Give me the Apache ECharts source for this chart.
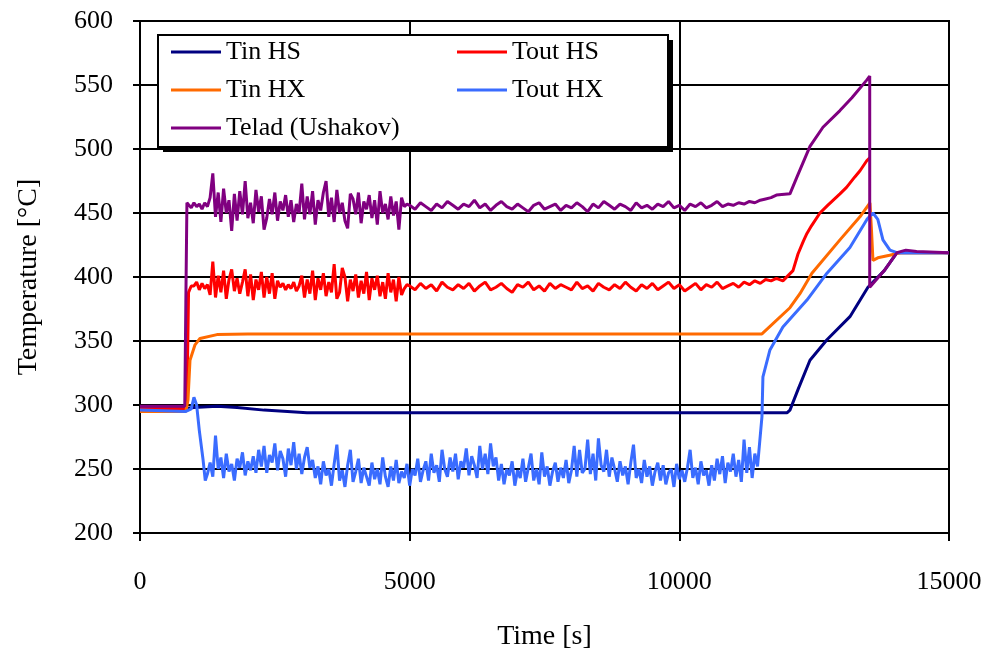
<!DOCTYPE html>
<html>
<head>
<meta charset="utf-8">
<script src="https://cdn.jsdelivr.net/npm/echarts@6/dist/echarts.min.js"></script>
<style>
  html, body { margin: 0; padding: 0; background: #fff; }
  #chart { width: 994px; height: 658px; }
</style>
</head>
<body>
<div id="chart"></div>
<script>
// axis ticks
const xTicks = [0, 5000, 10000, 15000];
const yTicks = [200, 250, 300, 350, 400, 450, 500, 550, 600];

// Tin HS (smooth, [time, temp])
const tinHs = [
  [0, 297], [800, 297], [1000, 298], [1427, 299], [1800, 298], [2300, 296],
  [3096, 294], [12000, 294], [12051, 296], [12200, 312], [12422, 335],
  [12737, 351], [13163, 369], [13497, 392], [13800, 405], [14035, 419], [15000, 419]
];

// Tin HX (smooth)
const tinHx = [
  [0, 295], [850, 295], [890, 304], [927, 335], [1020, 347], [1112, 352],
  [1427, 355], [2000, 355.5], [11532, 355.5], [12051, 376], [12236, 387],
  [12458, 403], [12978, 429], [13349, 447], [13534, 458], [13560, 439],
  [13590, 413], [13680, 415], [13900, 417], [14100, 419], [15000, 419]
];

// Tout HS
const toutHsStart = [[0, 297], [850, 297], [880, 330], [900, 388], [950, 393]];
const toutHsNoisy = [ // 1000..4950, every 50 s
  393, 396, 390, 395, 391, 394,
  386, 412, 384, 401, 388, 405, 383, 398, 406,
  389, 399, 387, 396,
  406, 385, 402, 382, 398, 390, 404, 384, 400, 387, 403, 383, 397,
  392, 395, 390, 394, 391, 396, 389, 393,
  401, 384, 398, 387, 405, 382, 399, 390, 403, 385, 396, 388, 410, 383, 388, 407,
  400, 381, 398, 389, 402, 384, 397, 387, 404, 382, 399, 390, 401, 385, 396, 383,
  403, 388, 398, 381, 400, 386,
  391, 394
];
const toutHsCalm = [ // 5000..11800, every 100 s
  393, 390, 395, 391, 394, 389, 396, 392, 390, 394, 391, 395, 389, 393, 396, 390, 392, 395, 391, 388,
  394, 392, 396, 390, 393, 389, 395, 391, 394, 392, 390, 396, 391, 393, 389, 395, 392, 390, 394, 391,
  396, 392, 389, 394, 391, 395, 390, 393, 396, 391, 394, 389, 392, 395, 390, 394, 392, 396, 391, 393,
  395, 392, 396, 394, 397, 395, 398, 397, 399
];
const toutHsEnd = [
  [11920, 397], [12107, 405], [12200, 418], [12300, 428], [12366, 434], [12450, 440],
  [12607, 450], [12750, 456], [12978, 465], [13100, 470], [13250, 478], [13350, 483],
  [13478, 491], [13530, 493]
];

// Tout HX
const toutHxStart = [
  [0, 296], [850, 295], [950, 297], [1000, 306], [1050, 300], [1100, 280],
  [1170, 257], [1210, 241]
];
const toutHxNoisy = [ // 1250..11450, every 50 s
  246, 255, 244, 276, 250, 259, 243, 262, 248, 254, 241, 258, 251, 263, 245, 256, 249, 260, 247, 265,
  252, 268, 247, 261, 255, 270, 249, 264, 258, 244, 266, 253, 271, 250, 262, 246, 259, 267, 251, 257,
  243, 252, 238, 256, 245, 250, 237, 254, 269, 241, 249, 236, 253, 265, 240, 248, 258, 239, 251, 244,
  237, 255, 242, 250, 238, 259, 244, 236, 252, 241, 257, 239, 248, 243, 254, 237, 250, 245, 258, 240,
  249, 256, 241, 262, 247, 253, 240, 265, 250, 244, 259, 248, 262, 242, 256, 251, 266, 245, 260, 253,
  243, 268, 250, 262, 246, 270, 252, 259, 241, 254, 238, 250, 245, 256, 237, 249, 243, 258, 240, 251,
  262, 241, 250, 238, 263, 244, 252, 237, 248, 255, 240, 251, 243, 257, 239, 249, 268, 244, 265, 247,
  250, 273, 246, 262, 241, 274, 253, 248, 265, 244, 259, 250, 240, 256, 245, 252, 238, 255, 269, 243,
  250, 239, 257, 244, 252, 237, 248, 255, 241, 253, 238, 247, 250, 236, 254, 242, 249, 240, 251, 265,
  243, 251, 238, 256, 245, 249, 237, 253, 241, 258, 246, 260, 239, 255, 248, 262, 244, 257, 240, 273,
  247, 267, 243, 262, 252
];
const toutHxEnd = [
  [11532, 291], [11550, 322], [11680, 343], [11920, 361], [12366, 382], [12737, 403],
  [13163, 423], [13478, 445], [13590, 450], [13680, 445], [13775, 429], [13905, 421],
  [14035, 419], [15000, 419]
];

// Telad (Ushakov)
const teladStart = [[0, 299], [830, 299], [850, 380], [870, 458]];
const teladNoisy = [ // 900..4950, every 50 s
  457, 454, 458, 455, 457, 453, 458, 455,
  462, 481, 447, 466, 443, 469, 450, 460, 436, 465, 444, 467, 449, 475, 446,
  458, 442, 468, 451, 463, 437, 446, 461, 449, 466, 444, 459, 452, 464, 447, 460, 443, 457, 450,
  473, 445, 463, 449, 467, 441, 460, 452, 466, 475, 447, 462, 443, 468, 450, 458, 444, 438, 465, 461,
  449, 466, 442, 459, 453, 464, 446, 460, 441, 467, 450, 457, 445, 463, 448, 459, 437, 462, 455, 457
];
const teladCalm = [ // 5000..11800, every 100 s
  456, 453, 458, 455, 452, 457, 454, 459, 456, 453, 457, 455, 460, 454, 457, 452, 456, 459, 455, 453,
  457, 454, 451, 456, 458, 453, 455, 457, 452, 456, 454, 458, 455, 451, 457, 454, 459, 456, 453, 457,
  455, 452, 458, 454, 456, 453, 457, 455, 459, 454, 456, 452, 457, 455, 458, 454, 456, 459, 455, 457,
  456, 458, 457, 459, 458, 460, 461, 462, 464
];
const teladEnd = [
  [12051, 465], [12180, 478], [12300, 490], [12422, 502], [12663, 517], [12978, 530],
  [13200, 540], [13478, 554], [13530, 557], [13530, 392], [13800, 405], [14035, 419],
  [14200, 421], [14400, 420], [15000, 419]
];

function sampled(start, step, values) {
  return values.map((v, i) => [start + i * step, v]);
}

const toutHs = [
  ...toutHsStart,
  ...sampled(1000, 50, toutHsNoisy),
  ...sampled(5000, 100, toutHsCalm),
  ...toutHsEnd,
];
const toutHx = [...toutHxStart, ...sampled(1250, 50, toutHxNoisy), ...toutHxEnd];
const telad = [
  ...teladStart,
  ...sampled(900, 50, teladNoisy),
  ...sampled(5000, 100, teladCalm),
  ...teladEnd,
];

const serif = "Liberation Serif";
const black = "#000";

function line(name, data, color, width) {
  return {
    name,
    type: "line",
    data,
    symbol: "none",
    lineStyle: { color, width },
    itemStyle: { color },
    z: 3,
  };
}

const legendCommon = {
  orient: "vertical",
  top: 39,
  padding: 0,
  itemGap: 12,
  itemWidth: 50,
  itemHeight: 3,
  icon: "rect",
  z: 10,
  textStyle: { fontFamily: serif, fontSize: 26, color: black, lineHeight: 26 },
};

const chart = echarts.init(document.getElementById("chart"));
chart.setOption({
  animation: false,
  backgroundColor: "#fff",
  grid: {
    left: 140, right: 45, top: 21, bottom: 125,
    show: true, borderColor: black, borderWidth: 2, backgroundColor: "transparent",
  },
  xAxis: {
    type: "value",
    min: xTicks[0], max: xTicks[xTicks.length - 1], interval: 5000,
    name: "Time [s]",
    nameLocation: "middle",
    nameGap: 90,
    nameTextStyle: { fontFamily: serif, fontSize: 28, color: black },
    axisLine: { show: true, lineStyle: { color: black, width: 2 } },
    axisTick: { show: true, length: 8, lineStyle: { color: black, width: 2 } },
    axisLabel: {
      fontFamily: serif, fontSize: 26, color: black, margin: 36,
      formatter: (v) => String(v),
    },
    splitLine: { show: true, lineStyle: { color: black, width: 2 } },
  },
  yAxis: {
    type: "value",
    min: yTicks[0], max: yTicks[yTicks.length - 1], interval: 50,
    name: "Temperature [°C]",
    nameLocation: "middle",
    nameGap: 97,
    nameTextStyle: { fontFamily: serif, fontSize: 28, color: black },
    axisLine: { show: true, lineStyle: { color: black, width: 2 } },
    axisTick: { show: true, length: 7, lineStyle: { color: black, width: 2 } },
    axisLabel: { fontFamily: serif, fontSize: 26, color: black, margin: 27 },
    splitLine: { show: true, lineStyle: { color: black, width: 2 } },
  },
  graphic: [
    { type: "rect", z: 5, shape: { x: 163, y: 40, width: 510, height: 112 }, style: { fill: black } },
    {
      type: "rect", z: 6,
      shape: { x: 158, y: 35, width: 510, height: 112 },
      style: { fill: "#fff", stroke: black, lineWidth: 2 },
    },
  ],
  legend: [
    { ...legendCommon, data: ["Tin HS", "Tin HX", "Telad (Ushakov)"], left: 171 },
    { ...legendCommon, data: ["Tout HS", "Tout HX"], left: 457 },
  ],
  series: [
    line("Tin HS", tinHs, "#000080", 3),
    line("Tout HS", toutHs, "#ff0000", 3),
    line("Tin HX", tinHx, "#ff6a00", 3),
    line("Tout HX", toutHx, "#3a6cff", 3),
    line("Telad (Ushakov)", telad, "#800080", 3),
  ],
});
</script>
</body>
</html>
